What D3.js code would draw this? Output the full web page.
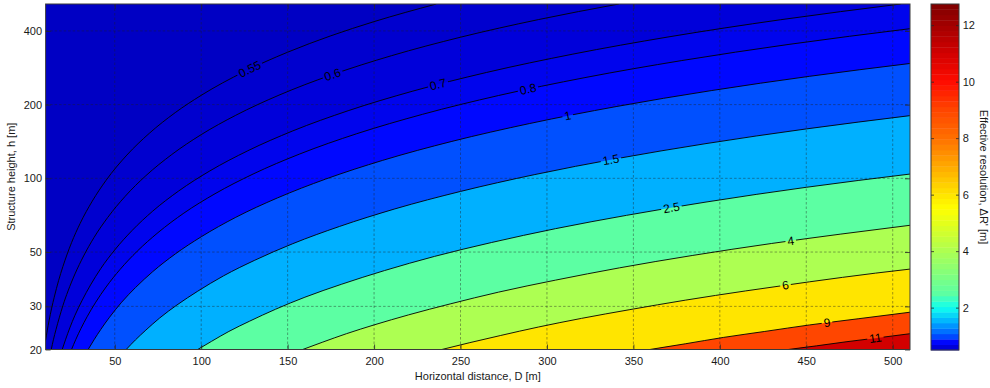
<!DOCTYPE html>
<html>
<head>
<meta charset="utf-8">
<script src="https://cdn.jsdelivr.net/npm/d3@7"></script>
<style>
  html, body { margin: 0; padding: 0; background: #fff; }
  svg { display: block; font-family: "Liberation Sans", Arial, Helvetica, sans-serif; }
</style>
</head>
<body>
<svg id="chart" width="990" height="388"></svg>
<script>
// ---- Data -----------------------------------------------------------
// Contour levels of the effective resolution ΔR' [m]
const levels      = [0.55, 0.6, 0.7, 0.8, 1, 1.5, 2.5, 4, 6, 9, 11];
const levelLabels = ["0.55", "0.6", "0.7", "0.8", "1", "1.5", "2.5", "4", "6", "9", "11"];
// Horizontal distance D at which each contour carries its label
const labelD      = [128, 176, 237, 289, 312, 337, 372, 441, 438, 462, 490];

// Contour lines, as [D (m), h (m)] points
const line055 = [[10,21.8],[11,24.0],[12,26.2],[13.5,29.5],[15,32.7],[17.5,38.2],[20,43.6],[25,54.6],[30,65.5],[37,80.7],[45,98.2],[57,124.4],[70,152.7],[85,185.5],[100,218.2],[125,272.8],[150,327.3],[175,381.9],[200,436.4],[236,515]];
const line06  = [[13.27,20],[14.5,21.9],[16,24.1],[18,27.1],[20,30.2],[23,34.7],[27,40.7],[32,48.2],[38,57.3],[46,69.3],[56,84.4],[68,102.5],[83,125.1],[100,150.8],[120,180.9],[145,218.6],[175,263.8],[210,316.6],[250,376.9],[295,444.7],[341.6,515]];
const line07  = [[19.6,20],[21.5,21.9],[24,24.5],[27,27.6],[31,31.6],[36,36.7],[42,42.9],[50,51.0],[60,61.2],[72,73.5],[87,88.8],[105,107.2],[127,129.6],[153,156.2],[185,188.8],[222,226.6],[265,270.5],[315,321.5],[370,377.6],[435,444.0],[504.6,515]];
const line08  = [[25,20],[27.5,22.0],[30.5,24.4],[34,27.2],[39,31.2],[45,36.0],[53,42.4],[63,50.4],[75,60.0],[90,72.1],[108,86.5],[130,104.1],[157,125.7],[190,152.1],[228,182.5],[272,217.8],[322,257.8],[378,302.6],[440,352.3],[510,408.3]];
const line1   = [[34.6,20],[38,21.9],[42,24.2],[47,27.1],[54,31.2],[62,35.8],[72,41.6],[85,49.1],[100,57.7],[120,69.3],[144,83.1],[172,99.3],[205,118.4],[245,141.5],[290,167.4],[340,196.3],[395,228.1],[452,261.0],[510,294.4]];
const line15  = [[56.6,20],[62,21.9],[68,24.0],[76,26.9],[86,30.4],[98,34.6],[113,40.0],[131,46.3],[153,54.1],[180,63.6],[212,75.0],[250,88.4],[293,103.6],[340,120.2],[392,138.6],[450,159.1],[510,180.3]];
const line25  = [[98,20],[106,21.6],[116,23.7],[128,26.1],[143,29.2],[160,32.7],[181,36.9],[206,42.0],[235,48.0],[268,54.7],[305,62.3],[346,70.6],[392,80.0],[450,91.9],[510,104.1]];
const line4   = [[158.7,20],[170,21.4],[184,23.2],[200,25.2],[220,27.7],[244,30.7],[272,34.3],[305,38.4],[342,43.1],[384,48.4],[430,54.2],[470,59.2],[510,64.3]];
const line6   = [[239.2,20],[255,21.3],[273,22.8],[295,24.7],[320,26.8],[348,29.1],[380,31.8],[415,34.7],[452,37.8],[490,41.0],[510,42.6]];
const line9   = [[359.5,20],[380,21.1],[402,22.4],[426,23.7],[452,25.2],[480,26.7],[510,28.4]];
const line11  = [[439.6,20],[456,20.7],[473,21.5],[491,22.3],[510,23.2]];
const contourLines = [line055, line06, line07, line08, line1, line15, line25, line4, line6, line9, line11];

// Axes
const xDomain = [10, 510];
const yDomain = [20, 515];
const xTicks  = [50, 100, 150, 200, 250, 300, 350, 400, 450, 500];
const yTicks  = [20, 30, 50, 100, 200, 400];
const cbTicks = [2, 4, 6, 8, 10, 12];
const cbDomain = [0.5, 12.75];

// Colour map (value -> colour) used by fills and the colour bar
const cmapValues = [0.5, 0.6, 0.8, 1.0, 1.5, 2.0, 2.5, 3.0, 4.0, 5.5, 6.0, 7.0, 8.0, 9.0, 10.0, 11.0, 12.75];
const cmapColors = ["#0000c4", "#0000da", "#0008ff", "#0050ff", "#00b0ff", "#10ffef", "#5cffa3", "#78ff87",
                    "#adff52", "#ffff00", "#ffe500", "#ffaa00", "#ff7000", "#ff4600", "#ff0c00", "#d20000", "#800000"];

// ---- Layout ---------------------------------------------------------
const plot = { left: 45.6, right: 910, top: 4, bottom: 349.5 };
const cb   = { left: 931, right: 959, top: 4, bottom: 350 };
const fontSize = 11;
const labelFontSize = 12;
const textColor = "#1a1a1a";

const svg = d3.select("#chart");
const x = d3.scaleLinear().domain(xDomain).range([plot.left, plot.right]);
const y = d3.scaleLog().domain(yDomain).range([plot.bottom, plot.top]);
const cmap = d3.scaleLinear().domain(cmapValues).range(cmapColors).interpolate(d3.interpolateRgb).clamp(true);

const defs = svg.append("defs");
defs.append("clipPath").attr("id", "plotClip")
  .append("rect")
  .attr("x", plot.left).attr("y", plot.top)
  .attr("width", plot.right - plot.left).attr("height", plot.bottom - plot.top);

const lineGen = d3.line().x(d => x(d[0])).y(d => y(d[1])).curve(d3.curveMonotoneX);

// ---- Filled contours ------------------------------------------------
const fills = svg.append("g").attr("clip-path", "url(#plotClip)");
fills.append("rect")
  .attr("x", plot.left).attr("y", plot.top)
  .attr("width", plot.right - plot.left).attr("height", plot.bottom - plot.top)
  .attr("fill", cmap(cbDomain[0]));

// Region ΔR' >= level lies below / right of its contour
function regionPath(pts) {
  const [D0, h0] = pts[0];
  const [D1, h1] = pts[pts.length - 1];
  let p = lineGen(pts);
  if (D1 < xDomain[1]) p += `L${x(xDomain[1])},${y(yDomain[1])}`;
  p += `L${x(xDomain[1])},${y(yDomain[0])}`;
  if (h0 > yDomain[0]) p += `L${x(xDomain[0])},${y(yDomain[0])}`;
  return p + "Z";
}
fills.selectAll("path.region")
  .data(contourLines)
  .join("path")
  .attr("class", "region")
  .attr("d", regionPath)
  .attr("fill", (d, i) => cmap(levels[i]))
  .attr("stroke", "none");

// ---- Grid -----------------------------------------------------------
const grid = svg.append("g")
  .attr("stroke", "#202020").attr("stroke-opacity", 0.6)
  .attr("stroke-width", 0.7).attr("stroke-dasharray", "2.5,2");
grid.selectAll("line.gx").data(xTicks).join("line").attr("class", "gx")
  .attr("x1", d => x(d)).attr("x2", d => x(d))
  .attr("y1", plot.top).attr("y2", plot.bottom);
grid.selectAll("line.gy").data(yTicks.filter(t => t > yDomain[0])).join("line").attr("class", "gy")
  .attr("y1", d => y(d)).attr("y2", d => y(d))
  .attr("x1", plot.left).attr("x2", plot.right);

// ---- Contour lines and inline labels --------------------------------
const mask = defs.append("mask").attr("id", "labelGaps")
  .attr("maskUnits", "userSpaceOnUse")
  .attr("x", 0).attr("y", 0).attr("width", 990).attr("height", 388);
mask.append("rect").attr("x", 0).attr("y", 0).attr("width", 990).attr("height", 388).attr("fill", "#fff");

const linesG = svg.append("g").attr("clip-path", "url(#plotClip)");
const linesInner = linesG.append("g").attr("mask", "url(#labelGaps)");
const linePaths = linesInner.selectAll("path.cline")
  .data(contourLines)
  .join("path")
  .attr("class", "cline")
  .attr("d", lineGen)
  .attr("fill", "none")
  .attr("stroke", "#000")
  .attr("stroke-width", 0.9);

// Locate the path length at which the drawn contour reaches a given x
function lengthAtX(node, px) {
  let lo = 0, hi = node.getTotalLength();
  for (let k = 0; k < 40; k++) {
    const mid = (lo + hi) / 2;
    if (node.getPointAtLength(mid).x < px) lo = mid; else hi = mid;
  }
  return (lo + hi) / 2;
}

const labelsG = svg.append("g");
linePaths.each(function (d, i) {
  const node = this;
  const len = lengthAtX(node, x(labelD[i]));
  const p = node.getPointAtLength(len);
  const a = node.getPointAtLength(Math.max(0, len - 5));
  const b = node.getPointAtLength(Math.min(node.getTotalLength(), len + 5));
  const ang = Math.atan2(b.y - a.y, b.x - a.x) * 180 / Math.PI;
  const tr = `translate(${p.x},${p.y}) rotate(${ang})`;
  const t = labelsG.append("text")
    .attr("transform", tr)
    .attr("text-anchor", "middle")
    .attr("dy", "0.35em")
    .attr("font-size", labelFontSize)
    .attr("fill", "#000")
    .text(levelLabels[i]);
  const w = t.node().getComputedTextLength() + 4;
  mask.append("rect")
    .attr("transform", tr)
    .attr("x", -w / 2).attr("y", -6)
    .attr("width", w).attr("height", 12)
    .attr("fill", "#000");
});

// ---- Axes -----------------------------------------------------------
function styleAxis(g) {
  g.select(".domain").remove();
  g.selectAll(".tick line").attr("stroke", "#262626").attr("stroke-width", 0.8);
  g.selectAll(".tick text").attr("fill", textColor).attr("font-size", fontSize)
    .attr("font-family", "Liberation Sans, Arial, sans-serif");
}

svg.append("g").attr("transform", `translate(0,${plot.bottom})`)
  .call(d3.axisBottom(x).tickValues(xTicks).tickFormat(d3.format("d")).tickSize(-5).tickPadding(7.5))
  .call(styleAxis);
svg.append("g").attr("transform", `translate(0,${plot.top})`)
  .call(d3.axisTop(x).tickValues(xTicks).tickFormat("").tickSize(-5))
  .call(styleAxis);
svg.append("g").attr("transform", `translate(${plot.left},0)`)
  .call(d3.axisLeft(y).tickValues(yTicks).tickFormat(d3.format("d")).tickSize(-5).tickPadding(3.6))
  .call(styleAxis);
svg.append("g").attr("transform", `translate(${plot.right},0)`)
  .call(d3.axisRight(y).tickValues(yTicks).tickFormat("").tickSize(-5))
  .call(styleAxis);

svg.append("rect")
  .attr("x", plot.left).attr("y", plot.top)
  .attr("width", plot.right - plot.left).attr("height", plot.bottom - plot.top)
  .attr("fill", "none").attr("stroke", "#3a3a3a").attr("stroke-width", 1);

svg.append("text")
  .attr("x", (plot.left + plot.right) / 2).attr("y", 380)
  .attr("text-anchor", "middle").attr("font-size", fontSize).attr("fill", textColor)
  .text("Horizontal distance, D [m]");
svg.append("text")
  .attr("transform", `translate(14.5,${(plot.top + plot.bottom) / 2}) rotate(-90)`)
  .attr("text-anchor", "middle").attr("font-size", fontSize).attr("fill", textColor)
  .text("Structure height, h [m]");

// ---- Colour bar -----------------------------------------------------
const cy = d3.scaleLinear().domain(cbDomain).range([cb.bottom, cb.top]);
const nSteps = 64;
const stepW = (cbDomain[1] - cbDomain[0]) / nSteps;
const steps = d3.range(nSteps).map(k => cbDomain[0] + k * stepW);
svg.append("g").selectAll("rect")
  .data(steps)
  .join("rect")
  .attr("x", cb.left).attr("width", cb.right - cb.left)
  .attr("y", d => cy(d + stepW))
  .attr("height", d => cy(d) - cy(d + stepW) + 0.4)
  .attr("fill", d => cmap(d + stepW / 2));

svg.append("g").attr("transform", `translate(${cb.right},0)`)
  .call(d3.axisRight(cy).tickValues(cbTicks).tickSize(-3).tickPadding(3.7))
  .call(styleAxis);
svg.append("g").attr("transform", `translate(${cb.left},0)`)
  .call(d3.axisLeft(cy).tickValues(cbTicks).tickFormat("").tickSize(-3))
  .call(styleAxis);
svg.append("rect")
  .attr("x", cb.left).attr("y", cb.top)
  .attr("width", cb.right - cb.left).attr("height", cb.bottom - cb.top)
  .attr("fill", "none").attr("stroke", "#3a3a3a").attr("stroke-width", 1);

svg.append("text")
  .attr("transform", `translate(979.5,${(cb.top + cb.bottom) / 2}) rotate(90)`)
  .attr("text-anchor", "middle").attr("font-size", fontSize).attr("fill", textColor)
  .text("Effective resolution, ΔR' [m]");
</script>
</body>
</html>
